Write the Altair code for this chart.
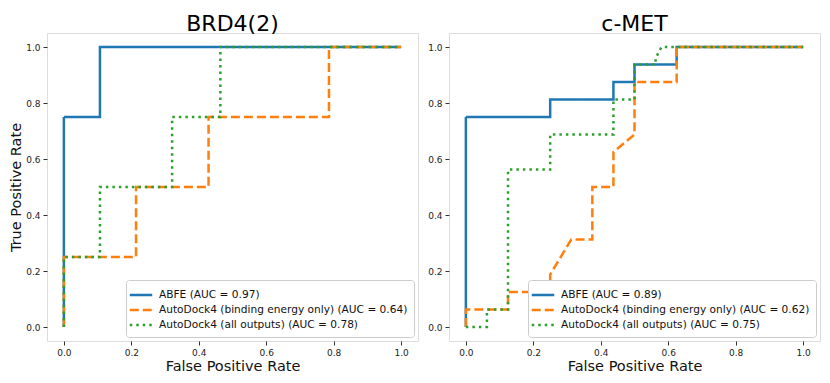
import altair as alt
import pandas as pd

# ---- data ----
series_keys = ["ABFE", "AD4_BE", "AD4_ALL"]

brd4_auc = ["0.97", "0.64", "0.78"]
brd4_abfe_fpr = [0.0, 0.0, 0.107, 0.107, 1.0]
brd4_abfe_tpr = [0.0, 0.75, 0.75, 1.0, 1.0]
brd4_be_fpr = [0.0, 0.0, 0.214, 0.214, 0.429, 0.429, 0.786, 0.786, 1.0]
brd4_be_tpr = [0.0, 0.25, 0.25, 0.5, 0.5, 0.75, 0.75, 1.0, 1.0]
brd4_all_fpr = [0.0, 0.0, 0.107, 0.107, 0.321, 0.321, 0.464, 0.464, 1.0]
brd4_all_tpr = [0.0, 0.25, 0.25, 0.5, 0.5, 0.75, 0.75, 1.0, 1.0]

cmet_auc = ["0.89", "0.62", "0.75"]
cmet_abfe_fpr = [0.0, 0.0, 0.25, 0.25, 0.4375, 0.4375, 0.5, 0.5, 0.625, 0.625, 1.0]
cmet_abfe_tpr = [0.0, 0.75, 0.75, 0.8125, 0.8125, 0.875, 0.875, 0.9375, 0.9375, 1.0, 1.0]
cmet_be_fpr = [0.0, 0.0, 0.125, 0.125, 0.25, 0.25, 0.3125, 0.375, 0.375, 0.4375, 0.4375,
               0.5, 0.5, 0.625, 0.625, 1.0]
cmet_be_tpr = [0.0, 0.0625, 0.0625, 0.125, 0.125, 0.1875, 0.3125, 0.3125, 0.5, 0.5, 0.625,
               0.6875, 0.875, 0.875, 1.0, 1.0]
cmet_all_fpr = [0.0, 0.0625, 0.0625, 0.125, 0.125, 0.25, 0.25, 0.4375, 0.4375, 0.5, 0.5,
                0.5625, 0.5625, 0.58, 1.0]
cmet_all_tpr = [0.0, 0.0, 0.0625, 0.0625, 0.5625, 0.5625, 0.6875, 0.6875, 0.8125, 0.8125,
                0.9375, 0.9375, 0.96, 1.0, 1.0]

tick_values = [0.0, 0.2, 0.4, 0.6, 0.8, 1.0]
colors = ["#1f77b4", "#ff7f0e", "#2ca02c"]
dashes = [[1, 0], [9, 4], [2.5, 4]]

FONT = "DejaVu Sans"


def labels_for(aucs):
    return [
        f"ABFE (AUC = {aucs[0]})",
        f"AutoDock4 (binding energy only) (AUC = {aucs[1]})",
        f"AutoDock4 (all outputs) (AUC = {aucs[2]})",
    ]


def axis(title):
    kw = dict(values=tick_values, format=".1f", grid=False, domain=False, tickSize=4,
              tickColor="#333", labelFontSize=9, labelPadding=3, titleFontSize=14.5,
              titleFontWeight="normal", titlePadding=2, labelFont=FONT, titleFont=FONT,
              labelColor="#222", titleColor="#111")
    kw["title"] = title if title else None
    return alt.Axis(**kw)


def panel(title, aucs, curves, show_ytitle):
    labs = labels_for(aucs)
    rows = []
    for key, lab, (fx, ty) in zip(series_keys, labs, curves):
        for i, (a, b) in enumerate(zip(fx, ty)):
            rows.append({"key": key, "label": lab, "fpr": a, "tpr": b, "i": i})
    df = pd.DataFrame(rows)

    x = alt.X("fpr:Q", scale=alt.Scale(domain=[-0.05, 1.05], nice=False, zero=False),
              axis=axis("False Positive Rate"))
    y = alt.Y("tpr:Q", scale=alt.Scale(domain=[-0.05, 1.05], nice=False, zero=False),
              axis=axis("True Positive Rate" if show_ytitle else None))
    color = alt.Color("label:N", scale=alt.Scale(domain=labs, range=colors),
                      legend=alt.Legend(title=None, orient="bottom-right", offset=4,
                                        symbolType="M-1.5,0L1.5,0", symbolSize=225,
                                        symbolStrokeWidth=2.5, labelFontSize=10.6,
                                        labelFont=FONT, labelColor="#111", labelOffset=9,
                                        fillColor="white", strokeColor="#ccc",
                                        cornerRadius=3, padding=6, rowPadding=0,
                                        labelLimit=400))
    dash = alt.StrokeDash("label:N", scale=alt.Scale(domain=labs, range=dashes), legend=None)

    layers = []
    for key in series_keys:
        layers.append(
            alt.Chart(df).transform_filter(alt.datum.key == key)
            .mark_line(strokeWidth=2.5, strokeCap="butt")
            .encode(x=x, y=y, color=color, strokeDash=dash, order="i:Q")
        )
    return alt.layer(*layers).properties(
        width=371, height=308,
        title=alt.TitleParams(title, fontSize=22, font=FONT, fontWeight="normal",
                              color="#000", offset=-3, anchor="middle"),
    )


left = panel("BRD4(2)", brd4_auc,
             [(brd4_abfe_fpr, brd4_abfe_tpr), (brd4_be_fpr, brd4_be_tpr),
              (brd4_all_fpr, brd4_all_tpr)], True)
right = panel("c-MET", cmet_auc,
              [(cmet_abfe_fpr, cmet_abfe_tpr), (cmet_be_fpr, cmet_be_tpr),
               (cmet_all_fpr, cmet_all_tpr)], False)

chart = (
    alt.hconcat(left, right, spacing=8)
    .resolve_scale(color="independent", strokeDash="independent")
    .properties(padding={"left": 0, "top": 4, "right": 0, "bottom": 0})
    .configure_view(stroke="#222", strokeWidth=1)
    .configure(background="white")
)

chart.save("out.html", embed_options={"renderer": "svg", "actions": False})
